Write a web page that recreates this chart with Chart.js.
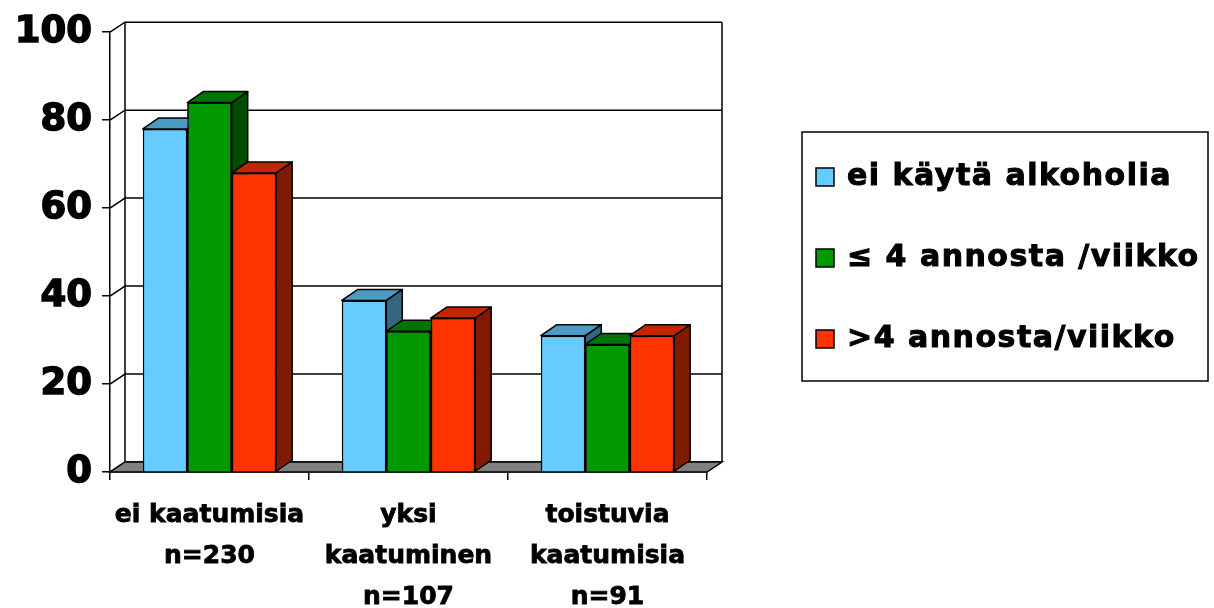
<!DOCTYPE html>
<html>
<head>
<meta charset="utf-8">
<script src="https://cdn.jsdelivr.net/npm/chart.js@4/dist/chart.umd.min.js"></script>
<style>
  body { margin: 0; background: #fff; }
  canvas { display: block; }
</style>
</head>
<body>
<canvas id="chart" width="1214" height="608"></canvas>
<script>
const categories = [
  ['ei kaatumisia', 'n=230'],
  ['yksi', 'kaatuminen', 'n=107'],
  ['toistuvia', 'kaatumisia', 'n=91'],
]
const seriesNames = ['ei käytä alkoholia', '≤ 4 annosta /viikko', '>4 annosta/viikko']
const noAlcohol = [78, 39, 31]
const upTo4 = [84, 32, 29]
const over4 = [68, 35, 31]
const yTicks = [0, 20, 40, 60, 80, 100]

// front, top, side colour for each series
const faceColors = [
  ['#66ccff', '#4d9ac2', '#336680'],
  ['#009900', '#007300', '#004d00'],
  ['#ff3300', '#c02600', '#801a00'],
]

const wallDx = 15, wallDy = -10
const barDx = 16, barDy = -11

function poly(ctx, pts, fill) {
  ctx.beginPath()
  ctx.moveTo(pts[0][0], pts[0][1])
  for (let i = 1; i < pts.length; i++) ctx.lineTo(pts[i][0], pts[i][1])
  ctx.closePath()
  if (fill) {
    ctx.fillStyle = fill
    ctx.fill()
  }
  ctx.stroke()
}

// back wall, side wall and floor
const wallsPlugin = {
  id: 'walls',
  beforeDatasetsDraw(chart) {
    const ctx = chart.ctx
    const ys = chart.scales.y
    const area = chart.chartArea
    ctx.save()
    ctx.strokeStyle = '#000'
    ctx.lineWidth = 1.5
    yTicks.forEach((v) => {
      const py = ys.getPixelForValue(v)
      ctx.beginPath()
      ctx.moveTo(area.left, py)
      ctx.lineTo(area.left + wallDx, py + wallDy)
      ctx.lineTo(area.right + wallDx, py + wallDy)
      ctx.stroke()
    })
    const top = ys.getPixelForValue(100)
    const bottom = ys.getPixelForValue(0)
    ctx.beginPath()
    ctx.moveTo(area.left + wallDx, top + wallDy)
    ctx.lineTo(area.left + wallDx, bottom + wallDy)
    ctx.moveTo(area.right + wallDx, top + wallDy)
    ctx.lineTo(area.right + wallDx, bottom + wallDy)
    ctx.stroke()
    poly(ctx, [
      [area.left, bottom],
      [area.right, bottom],
      [area.right + wallDx, bottom + wallDy],
      [area.left + wallDx, bottom + wallDy],
    ], '#808080')
    ctx.restore()
  },
}

// chart.js paints the last dataset first, so repaint the bars left to right
// with their side and top faces, then the bar element itself on top
const depthPlugin = {
  id: 'depth',
  afterDatasetsDraw(chart) {
    const ctx = chart.ctx
    ctx.save()
    ctx.strokeStyle = '#000'
    ctx.lineWidth = 1.5
    ctx.lineJoin = 'round'
    chart.data.datasets.forEach((ds, i) => {
      const cols = faceColors[i]
      chart.getDatasetMeta(i).data.forEach((bar) => {
        const l = bar.x - bar.width / 2
        const r = bar.x + bar.width / 2
        const t = bar.y
        const b = bar.base
        ctx.strokeStyle = '#000'
        ctx.lineWidth = 1.5
        poly(ctx, [[r, t], [r + barDx, t + barDy], [r + barDx, b + barDy], [r, b]], cols[2])
        poly(ctx, [[l, t], [r, t], [r + barDx, t + barDy], [l + barDx, t + barDy]], cols[1])
        bar.draw(ctx, chart.chartArea)
      })
    })
    ctx.restore()
  },
}

const legendPlugin = {
  id: 'boxLegend',
  afterDraw(chart) {
    const ctx = chart.ctx
    ctx.save()
    ctx.strokeStyle = '#000'
    ctx.lineWidth = 1.5
    ctx.strokeRect(802, 132, 406, 249)
    ctx.font = 'bold 30px "DejaVu Sans"'
    ctx.textBaseline = 'middle'
    if ('letterSpacing' in ctx) ctx.letterSpacing = '1.5px'
    chart.data.datasets.forEach((ds, i) => {
      const cy = 177 + i * 81
      ctx.fillStyle = faceColors[i][0]
      ctx.lineWidth = 1.5
      ctx.fillRect(816, cy - 9, 18, 18)
      ctx.strokeRect(816, cy - 9, 18, 18)
      ctx.fillStyle = '#000'
      ctx.lineWidth = 1
      ctx.fillText(ds.label, 847, cy)
      ctx.strokeText(ds.label, 847, cy)
    })
    ctx.restore()
  },
}

const datasets = [noAlcohol, upTo4, over4].map((vals, i) => ({
  label: seriesNames[i],
  data: vals,
  backgroundColor: faceColors[i][0],
  borderColor: '#000',
  borderWidth: 1.5,
  categoryPercentage: 0.67,
  barPercentage: 1.0,
}))

new Chart(document.getElementById('chart'), {
  type: 'bar',
  data: { labels: categories, datasets: datasets },
  options: {
    responsive: false,
    animation: false,
    layout: { padding: { top: 31, right: 507, left: 0, bottom: 0 } },
    plugins: {
      legend: { display: false },
      tooltip: { enabled: false },
    },
    scales: {
      x: {
        offset: true,
        grid: { offset: true, drawOnChartArea: false, tickLength: 8, color: '#000', lineWidth: 1.5 },
        border: { display: true, color: '#000', width: 1.5 },
        ticks: {
          color: '#000',
          font: { family: 'DejaVu Sans', weight: 'bold', size: 25, lineHeight: 1.64 },
          textStrokeColor: '#000',
          textStrokeWidth: 0.8,
          padding: 15,
          maxRotation: 0,
          autoSkip: false,
        },
        afterFit: (scale) => { scale.height = 136 },
      },
      y: {
        min: 0,
        max: 100,
        grid: { drawOnChartArea: false, tickLength: 8, color: '#000', lineWidth: 1.5 },
        border: { display: true, color: '#000', width: 1.5 },
        ticks: {
          stepSize: 20,
          color: '#000',
          font: { family: 'DejaVu Sans', weight: 'bold', size: 37 },
          textStrokeColor: '#000',
          textStrokeWidth: 1.5,
          padding: 10,
        },
        afterFit: (scale) => { scale.width = 110 },
      },
    },
  },
  plugins: [wallsPlugin, depthPlugin, legendPlugin],
})
</script>
</body>
</html>
